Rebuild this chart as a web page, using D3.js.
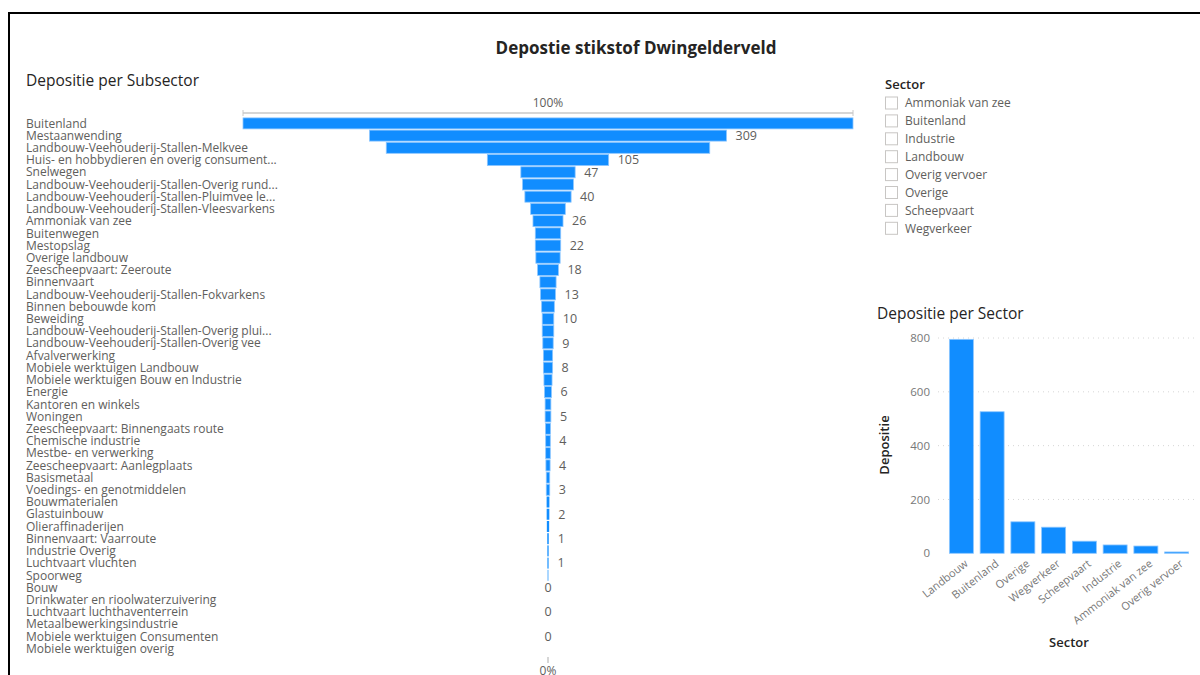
<!DOCTYPE html>
<html>
<head>
<meta charset="utf-8">
<script src="https://d3js.org/d3.v7.min.js"></script>
<style>
  body { margin: 0; background: #fff; }
  text { font-family: "Open Sans", "Noto Sans", sans-serif; }
</style>
</head>
<body>
<script>
  // subsector funnel data
  const subsectors = [
    "Buitenland", "Mestaanwending", "Landbouw-Veehouderij-Stallen-Melkvee",
    "Huis- en hobbydieren en overig consument...", "Snelwegen",
    "Landbouw-Veehouderij-Stallen-Overig rund...", "Landbouw-Veehouderij-Stallen-Pluimvee le...",
    "Landbouw-Veehouderij-Stallen-Vleesvarkens", "Ammoniak van zee", "Buitenwegen",
    "Mestopslag", "Overige landbouw", "Zeescheepvaart: Zeeroute", "Binnenvaart",
    "Landbouw-Veehouderij-Stallen-Fokvarkens", "Binnen bebouwde kom", "Beweiding",
    "Landbouw-Veehouderij-Stallen-Overig plui...", "Landbouw-Veehouderij-Stallen-Overig vee",
    "Afvalverwerking", "Mobiele werktuigen Landbouw", "Mobiele werktuigen Bouw en Industrie",
    "Energie", "Kantoren en winkels", "Woningen", "Zeescheepvaart: Binnengaats route",
    "Chemische industrie", "Mestbe- en verwerking", "Zeescheepvaart: Aanlegplaats",
    "Basismetaal", "Voedings- en genotmiddelen", "Bouwmaterialen", "Glastuinbouw",
    "Olieraffinaderijen", "Binnenvaart: Vaarroute", "Industrie Overig", "Luchtvaart vluchten",
    "Spoorweg", "Bouw", "Drinkwater en rioolwaterzuivering", "Luchtvaart luchthaventerrein",
    "Metaalbewerkingsindustrie", "Mobiele werktuigen Consumenten", "Mobiele werktuigen overig"
  ];
  const subValues = [
    528, 309, 280, 105, 47, 44, 40, 30, 26, 22,
    22, 21, 18, 14, 13, 11, 10, 10, 9, 8,
    8, 7, 6, 5, 5, 4.3, 4, 4, 3.6, 3,
    3, 2.4, 2.3, 2, 1.3, 1.1, 1, 0.6, 0.2, 0.1,
    0.1, 0.05, 0.05, 0.02
  ];
  // which rows show a data label (power bi hides the overlapping ones)
  const subLabelShown = [
    0, 1, 0, 1, 1, 0, 1, 0, 1, 0,
    1, 0, 1, 0, 1, 0, 1, 0, 1, 0,
    1, 0, 1, 0, 1, 0, 1, 0, 1, 0,
    1, 0, 1, 0, 1, 0, 1, 0, 1, 0,
    1, 0, 1, 0
  ];

  // sector bar data
  const sectors = ["Landbouw", "Buitenland", "Overige", "Wegverkeer", "Scheepvaart",
    "Industrie", "Ammoniak van zee", "Overig vervoer"];
  const sectorValues = [795, 526, 117, 97, 45, 31, 27, 5];
  const sectorTicks = [0, 200, 400, 600, 800];

  // slicer items
  const slicerItems = ["Ammoniak van zee", "Buitenland", "Industrie", "Landbouw",
    "Overig vervoer", "Overige", "Scheepvaart", "Wegverkeer"];

  const blue = "#118DFF";
  const grey = "#605E5C";

  const svg = d3.select("body")
    .append("svg")
    .attr("width", 1200)
    .attr("height", 675);

  // page frame
  svg.append("line").attr("x1", 8).attr("x2", 1200).attr("y1", 13).attr("y2", 13)
    .attr("stroke", "#000").attr("stroke-width", 2);
  svg.append("line").attr("x1", 9).attr("x2", 9).attr("y1", 12).attr("y2", 675)
    .attr("stroke", "#000").attr("stroke-width", 2);

  // title
  svg.append("text")
    .attr("x", 636).attr("y", 54)
    .attr("text-anchor", "middle")
    .attr("font-size", 17).attr("font-weight", 700)
    .attr("fill", "#252423")
    .text("Depostie stikstof Dwingelderveld");

  // ---------- funnel ----------
  svg.append("text")
    .attr("x", 26).attr("y", 86)
    .attr("font-size", 15.5).attr("fill", "#252423")
    .text("Depositie per Subsector");

  const cx = 548;
  const w = d3.scaleLinear()
    .domain([0, d3.max(subValues)])
    .range([0, 610]);

  const y = d3.scaleBand()
    .domain(subsectors)
    .range([117.9, 654.1])
    .paddingInner(0.1);

  // 100% top axis
  const left = cx - w(subValues[0]) / 2, right = cx + w(subValues[0]) / 2;
  svg.append("line")
    .attr("x1", left).attr("x2", right)
    .attr("y1", 113).attr("y2", 113)
    .attr("stroke", "#c8c8c8").attr("stroke-width", 1.5);
  [left, right].forEach(function(x) {
    svg.append("line").attr("x1", x).attr("x2", x).attr("y1", 110).attr("y2", 116)
      .attr("stroke", "#c8c8c8");
  });
  svg.append("text")
    .attr("x", cx).attr("y", 107)
    .attr("text-anchor", "middle")
    .attr("font-size", 12).attr("fill", grey)
    .text("100%");

  // 0% bottom marker
  svg.append("line").attr("x1", cx).attr("x2", cx).attr("y1", 657).attr("y2", 663)
    .attr("stroke", "#c8c8c8").attr("stroke-width", 1.5);
  svg.append("text")
    .attr("x", cx).attr("y", 675)
    .attr("text-anchor", "middle")
    .attr("font-size", 12).attr("fill", grey)
    .text("0%");

  const rows = subsectors.map((s, i) => ({ name: s, value: subValues[i], shown: subLabelShown[i] }));

  svg.selectAll(".sublabel")
    .data(rows)
    .join("text")
    .attr("class", "sublabel")
    .attr("x", 26)
    .attr("y", d => y(d.name) + y.bandwidth() / 2)
    .attr("dy", "0.35em")
    .attr("font-size", 12)
    .attr("fill", grey)
    .text(d => d.name);

  svg.selectAll(".funnelbar")
    .data(rows.filter(d => w(d.value) >= 0.5))
    .join("rect")
    .attr("class", "funnelbar")
    .attr("x", d => cx - w(d.value) / 2)
    .attr("y", d => y(d.name))
    .attr("width", d => w(d.value))
    .attr("height", y.bandwidth())
    .attr("fill", blue)
    .attr("stroke", d => w(d.value) > 3 ? "#8cc6ff" : "none")
    .attr("stroke-width", 0.8);

  svg.selectAll(".funnelval")
    .data(rows.filter(d => d.shown))
    .join("text")
    .attr("class", "funnelval")
    .attr("x", d => d.value < 0.5 ? cx : cx + w(d.value) / 2 + 9)
    .attr("y", d => y(d.name) + y.bandwidth() / 2)
    .attr("dy", "0.35em")
    .attr("text-anchor", d => d.value < 0.5 ? "middle" : "start")
    .attr("font-size", 12.5)
    .attr("fill", grey)
    .text(d => Math.round(d.value));

  // ---------- slicer ----------
  svg.append("text")
    .attr("x", 885).attr("y", 89)
    .attr("font-size", 13).attr("font-weight", 600)
    .attr("fill", "#252423")
    .text("Sector");

  const slicer = svg.selectAll(".slicer")
    .data(slicerItems)
    .join("g")
    .attr("class", "slicer")
    .attr("transform", (d, i) => `translate(885, ${103 + i * 17.9})`);
  slicer.append("rect")
    .attr("x", 0.5).attr("y", -6)
    .attr("width", 12).attr("height", 12)
    .attr("fill", "#fff").attr("stroke", "#c8c6c4");
  slicer.append("text")
    .attr("x", 20).attr("dy", "0.35em")
    .attr("font-size", 12).attr("fill", grey)
    .text(d => d);

  // ---------- sector bar chart ----------
  svg.append("text")
    .attr("x", 877).attr("y", 319)
    .attr("font-size", 15.5).attr("fill", "#252423")
    .text("Depositie per Sector");

  const bx = d3.scaleBand()
    .domain(sectors)
    .range([946, 1192])
    .paddingInner(0.22)
    .paddingOuter(0.11);

  const by = d3.scaleLinear()
    .domain([0, 800])
    .range([553.3, 338]);

  // gridlines
  svg.selectAll(".grid")
    .data(sectorTicks.filter(t => t > 0))
    .join("line")
    .attr("class", "grid")
    .attr("x1", 938).attr("x2", 1196)
    .attr("y1", d => by(d)).attr("y2", d => by(d))
    .attr("stroke", "#d6d6d6")
    .attr("stroke-dasharray", "1 4");

  const yAxis = svg.append("g")
    .attr("transform", "translate(934,0)")
    .call(d3.axisLeft(by).tickValues(sectorTicks).tickSize(0).tickPadding(4));
  yAxis.select(".domain").remove();
  yAxis.selectAll("text")
    .attr("font-size", 11.5)
    .attr("fill", "#777")
    .style("font-family", "'Open Sans', sans-serif");

  svg.selectAll(".sectorbar")
    .data(sectors.map((s, i) => ({ name: s, value: sectorValues[i] })))
    .join("rect")
    .attr("class", "sectorbar")
    .attr("x", d => bx(d.name))
    .attr("y", d => by(d.value))
    .attr("width", bx.bandwidth())
    .attr("height", d => by(0) - by(d.value))
    .attr("fill", blue)
    .attr("stroke", "#8cc6ff")
    .attr("stroke-width", 0.8);

  const xAxis = svg.append("g")
    .attr("transform", "translate(0,556)")
    .call(d3.axisBottom(bx).tickSize(0).tickPadding(0));
  xAxis.select(".domain").remove();
  xAxis.selectAll("text")
    .attr("font-size", 11)
    .attr("fill", "#777")
    .style("font-family", "'Open Sans', sans-serif")
    .attr("text-anchor", "end")
    .attr("dy", "0.35em")
    .attr("transform", "translate(5,6) rotate(-38)");

  svg.append("text")
    .attr("transform", "translate(889,445) rotate(-90)")
    .attr("text-anchor", "middle")
    .attr("font-size", 13).attr("font-weight", 600)
    .attr("fill", "#252423")
    .text("Depositie");

  svg.append("text")
    .attr("x", 1069).attr("y", 647)
    .attr("text-anchor", "middle")
    .attr("font-size", 13).attr("font-weight", 600)
    .attr("fill", "#252423")
    .text("Sector");
</script>
</body>
</html>
